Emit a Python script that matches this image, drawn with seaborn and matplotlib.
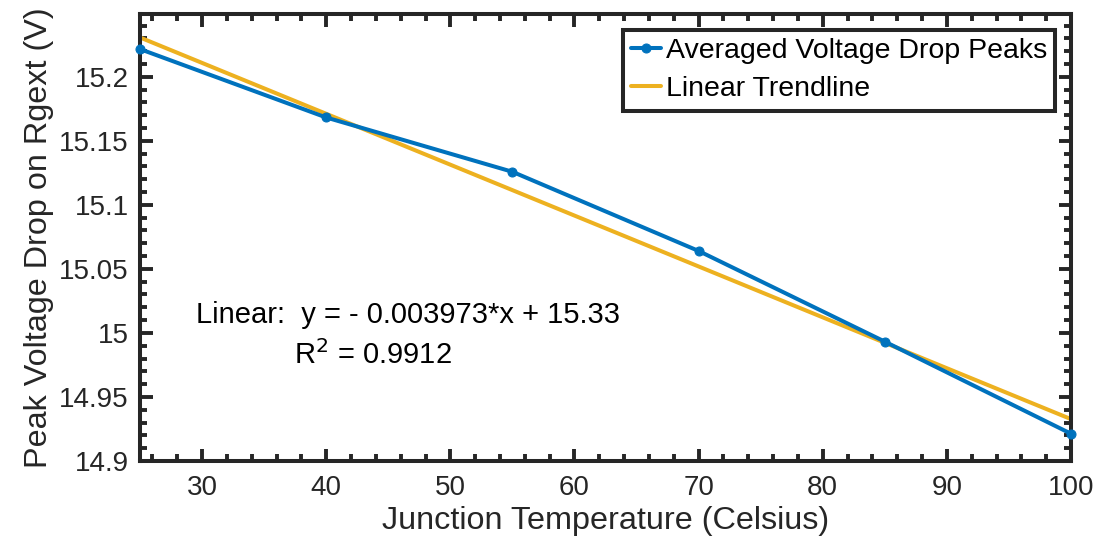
import numpy as np
import pandas as pd
import matplotlib
matplotlib.use("Agg")
import matplotlib.pyplot as plt
import seaborn as sns
from matplotlib.ticker import MultipleLocator

# Data
temperature = [25, 40, 55, 70, 85, 100]
voltage_peaks = [15.2216, 15.1682, 15.1258, 15.0640, 14.9932, 14.9213]
trend_slope = -0.003973
trend_intercept = 15.33
trend_x = [25, 100]
x_ticks = [30, 40, 50, 60, 70, 80, 90, 100]
y_ticks = [14.9, 14.95, 15.0, 15.05, 15.1, 15.15, 15.2]
y_tick_labels = ["14.9", "14.95", "15", "15.05", "15.1", "15.15", "15.2"]

sns.set_theme(style="ticks")
plt.rcParams['font.family'] = ['Liberation Sans', 'DejaVu Sans']

dark = "#262626"
blue = "#0072BD"
orange = "#EDB120"

W, H = 1107, 544
fig = plt.figure(figsize=(W / 100, H / 100), dpi=100)
ax = fig.add_axes([140 / W, 1 - 461 / H, (1071 - 140) / W, (461 - 14) / H])

df = pd.DataFrame({"T": temperature, "V": voltage_peaks})
trend_y = [trend_slope * x + trend_intercept for x in trend_x]
df_tr = pd.DataFrame({"T": trend_x, "V": trend_y})

sns.lineplot(data=df, x="T", y="V", ax=ax, color=blue, lw=2.9, marker="o",
             markersize=6.5, markeredgecolor=blue, label="Averaged Voltage Drop Peaks",
             zorder=3, clip_on=False)
sns.lineplot(data=df_tr, x="T", y="V", ax=ax, color=orange, lw=2.9,
             label="Linear Trendline", zorder=2)

ax.set_xlim(25, 100)
ax.set_ylim(14.9, 15.249)
ax.set_xticks(x_ticks)
ax.set_yticks(y_ticks)
ax.set_yticklabels(y_tick_labels)
ax.xaxis.set_minor_locator(MultipleLocator(2))
ax.yaxis.set_minor_locator(MultipleLocator(0.01))

ax.tick_params(which="both", direction="in", top=True, right=True, colors=dark,
               labelcolor=dark, labelsize=20, width=2.8)
ax.tick_params(which="major", length=9)
ax.tick_params(which="minor", length=5)
ax.tick_params(axis="x", pad=10)
ax.tick_params(axis="y", pad=8)
for s in ax.spines.values():
    s.set_visible(True)
    s.set_color(dark)
    s.set_linewidth(2.9)

ax.set_xlabel("Junction Temperature (Celsius)", fontsize=23.3, color=dark, labelpad=4)
ax.set_ylabel("Peak Voltage Drop on Rgext (V)", fontsize=23.3, color=dark, labelpad=4)

leg = ax.legend(loc="upper right", fontsize=20.5, frameon=True, fancybox=False,
                handlelength=1.05, handletextpad=0.15, borderpad=0.3,
                labelspacing=0.42, borderaxespad=0.55)
leg.get_frame().set_edgecolor(dark)
leg.get_frame().set_linewidth(2.9)
leg.get_frame().set_alpha(1)
for t in leg.get_texts():
    t.set_color("black")

fig.text(408 / W, 1 - 315 / H, "Linear:  y = - 0.003973*x + 15.33", fontsize=21,
         color="black", ha="center", va="center")
fig.text(373 / W, 1 - 355 / H, "R$^2$ = 0.9912", fontsize=21,
         color="black", ha="center", va="center")

fig.savefig("out.png", dpi=100)
